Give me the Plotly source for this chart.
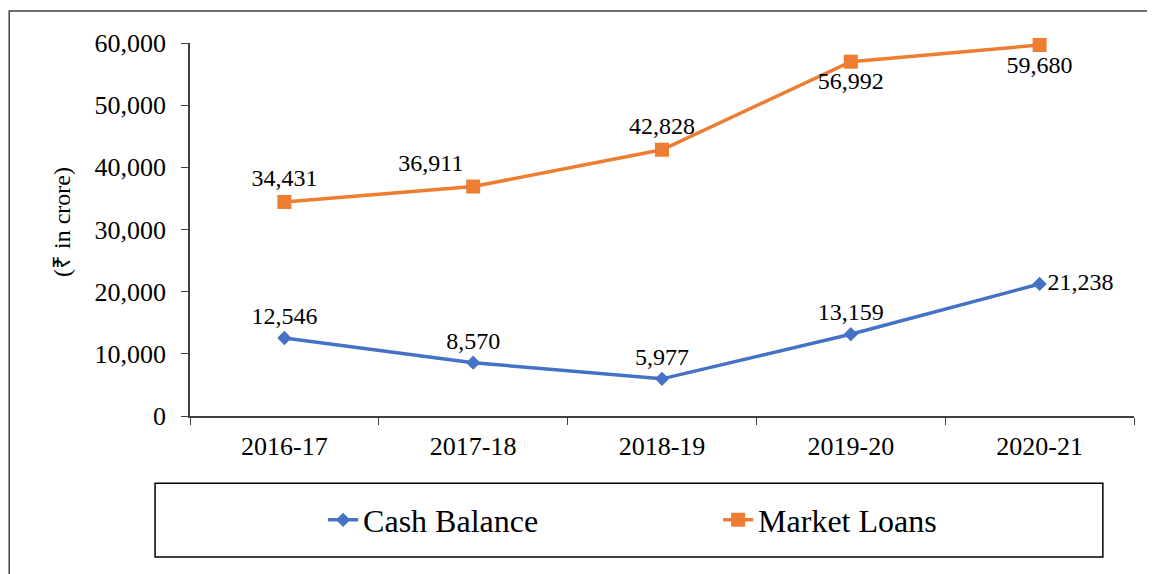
import plotly.graph_objects as go

years = ["2016-17", "2017-18", "2018-19", "2019-20", "2020-21"]
cash_balance = [12546, 8570, 5977, 13159, 21238]
market_loans = [34431, 36911, 42828, 56992, 59680]
y_ticks = [0, 10000, 20000, 30000, 40000, 50000, 60000]

cash_pos = ["top center", "top center", "top center", "top center", "middle right"]
loan_pos = ["top center", "top left", "top center", "bottom center", "bottom center"]

serif = "Liberation Serif"


def tfont(size):
    return dict(family=serif, size=size, color="black")


fig = go.Figure()

fig.add_trace(go.Scatter(
    x=years, y=cash_balance, name="Cash Balance",
    mode="lines+markers+text",
    line=dict(color="#4472C4", width=3.5),
    marker=dict(symbol="diamond", size=11, color="#4472C4"),
    text=[f"{v:,}" for v in cash_balance],
    textposition=cash_pos,
    textfont=tfont(24),
    cliponaxis=False,
))

fig.add_trace(go.Scatter(
    x=years, y=market_loans, name="Market Loans",
    mode="lines+markers+text",
    line=dict(color="#ED7D31", width=3.5),
    marker=dict(symbol="square", size=14, color="#ED7D31"),
    text=[f"{v:,}" for v in market_loans],
    textposition=loan_pos,
    textfont=tfont(24),
    cliponaxis=False,
))

fig.update_xaxes(
    type="category", range=[-0.5, 4.5],
    showline=True, linecolor="#404040", linewidth=1.5,
    ticks="outside", tickson="boundaries", ticklen=7, tickcolor="#404040",
    ticklabelstandoff=6,
    showgrid=False,
    tickfont=tfont(26),
)

fig.update_yaxes(
    range=[0, 60000], tickvals=y_ticks,
    tickformat=",d",
    showline=True, linecolor="#404040", linewidth=1.5,
    ticks="outside", ticklen=7, tickcolor="#404040",
    ticklabelstandoff=10,
    showgrid=False, zeroline=False,
    tickfont=tfont(26),
)

# y axis title placed by hand
fig.add_annotation(
    text="(₹ in crore)", xref="paper", yref="paper",
    x=-0.1356, y=0.52, xanchor="center", yanchor="middle",
    textangle=-90, showarrow=False,
    font=tfont(24),
)

# legend box and outer chart border
fig.add_shape(type="rect", xref="paper", yref="paper",
              x0=-0.037, x1=0.967, y0=-0.378, y1=-0.180,
              line=dict(color="black", width=1.5))
fig.add_shape(type="rect", xref="paper", yref="paper",
              x0=-0.1915, x1=1.1, y0=-0.5, y1=1.0858,
              line=dict(color="#404040", width=1.5))

# the page body adds 8px on the left and top, so the figure is 8px smaller
fig.update_layout(
    width=1147, height=566,
    margin=dict(l=182, r=21, t=35, b=158, autoexpand=False),
    plot_bgcolor="white", paper_bgcolor="white",
    showlegend=True,
    legend=dict(
        orientation="h", xref="paper", yref="paper",
        x=0.141, y=-0.279, xanchor="left", yanchor="middle",
        entrywidth=350, entrywidthmode="pixels",
        font=tfont(32),
        bgcolor="rgba(0,0,0,0)",
    ),
)

fig.write_html("out.html")
